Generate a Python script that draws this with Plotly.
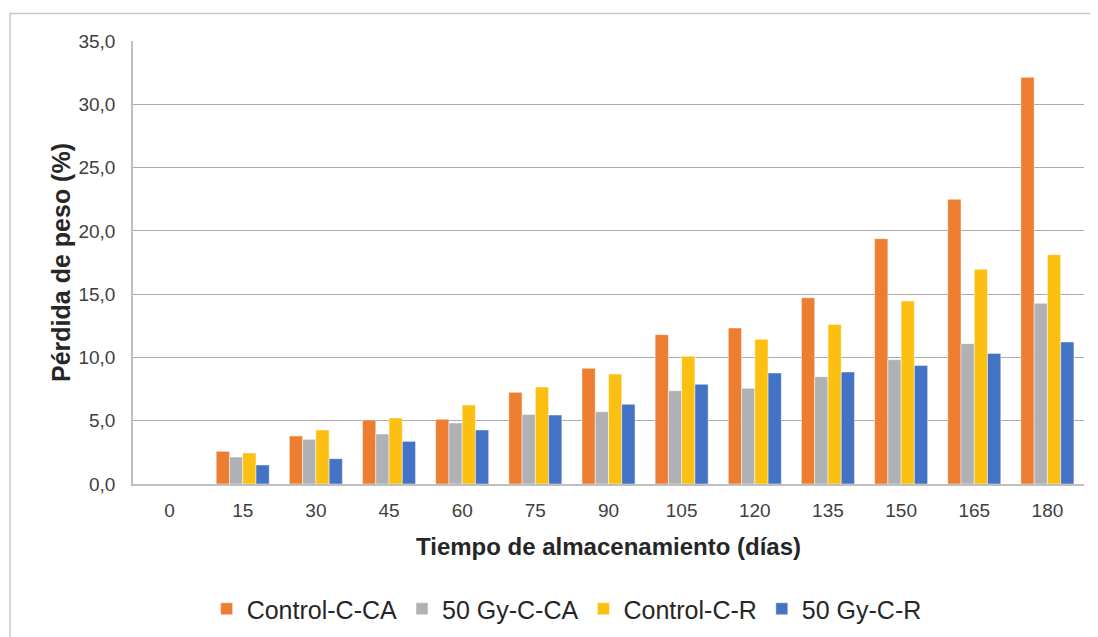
import plotly.graph_objects as go

dias = ["0", "15", "30", "45", "60", "75", "90", "105", "120", "135", "150", "165", "180"]
control_c_ca = [0, 2.58, 3.79, 5.06, 5.11, 7.24, 9.14, 11.80, 12.32, 14.72, 19.38, 22.49, 32.13]
gy50_c_ca = [0, 2.13, 3.53, 3.95, 4.82, 5.50, 5.71, 7.37, 7.56, 8.48, 9.82, 11.09, 14.28]
control_c_r = [0, 2.45, 4.27, 5.21, 6.24, 7.66, 8.69, 10.09, 11.43, 12.61, 14.46, 16.96, 18.12]
gy50_c_r = [0, 1.50, 2.00, 3.37, 4.27, 5.45, 6.30, 7.88, 8.77, 8.85, 9.37, 10.32, 11.22]

series = [
    ("Control-C-CA", control_c_ca, "#ED7D31"),
    ("50 Gy-C-CA", gy50_c_ca, "#B0B1B4"),
    ("Control-C-R", control_c_r, "#FBC012"),
    ("50 Gy-C-R", gy50_c_r, "#4472C4"),
]

fig = go.Figure()
for name, vals, col in series:
    fig.add_trace(go.Bar(
        x=dias, y=vals, name=name,
        marker=dict(color=col, line=dict(color="rgba(255,255,255,0.6)", width=0.8)),
    ))

# page body has an 8px margin, so the figure starts at (8, 8)
OFF = 8
W, H = 1098 - OFF, 637 - OFF
L, R, T, B = 133 - OFF, 14, 41 - OFF, 153
pw, ph = W - L - R, H - T - B

fig.update_layout(
    width=W, height=H,
    margin=dict(l=L, r=R, t=T, b=B, pad=0, autoexpand=False),
    paper_bgcolor="white", plot_bgcolor="white",
    barmode="group", bargap=0.275, bargroupgap=0,
    font=dict(family="Liberation Sans, Arial, sans-serif", color="#404040"),
    separators=",.",
    showlegend=True,
    legend=dict(
        orientation="h", x=0.456, xanchor="center", y=(H - (609 - OFF) - B) / ph, yanchor="middle",
        font=dict(size=25, color="#262626"), itemwidth=30, tracegroupgap=0,
        traceorder="normal",
    ),
    xaxis=dict(
        type="category", showgrid=False, showline=True, linecolor="#BFBFBF", linewidth=1.5,
        ticks="", tickfont=dict(size=19, color="#404040"), ticklabelstandoff=8, automargin=False,
        title=dict(text="<b>Tiempo de almacenamiento (días)</b>", font=dict(size=24, color="#262626"), standoff=19),
    ),
    yaxis=dict(
        range=[0, 35], dtick=5, tickformat=".1f", automargin=False,
        showgrid=True, gridcolor="#ABABAB", gridwidth=1.3,
        showline=True, linecolor="#BFBFBF", linewidth=1.5,
        zeroline=False, ticks="", ticklabelstandoff=12,
        tickfont=dict(size=19, color="#404040"),
        title=dict(text="<b>Pérdida de peso (%)</b>", font=dict(size=25, color="#262626"), standoff=1),
    ),
    shapes=[
        dict(type="line", xref="paper", yref="paper",
             x0=(10 - OFF - L) / pw, x1=(W - L) / pw,
             y0=(H - (13.5 - OFF) - B) / ph, y1=(H - (13.5 - OFF) - B) / ph,
             line=dict(color="#C8C8C8", width=1.5)),
        dict(type="line", xref="paper", yref="paper",
             x0=(10 - OFF - L) / pw, x1=(10 - OFF - L) / pw,
             y0=(H - (13 - OFF) - B) / ph, y1=(-B - 2) / ph,
             line=dict(color="#C8C8C8", width=1.5)),
    ],
)

fig.write_html("out.html")
